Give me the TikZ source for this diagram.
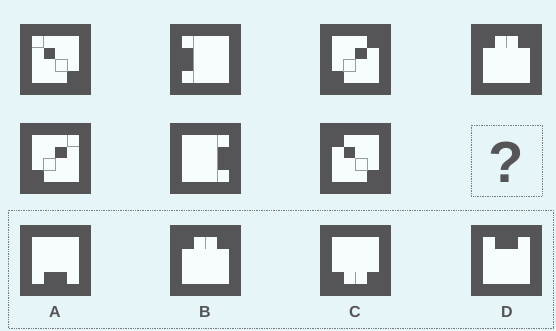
\documentclass[tikz,border=0pt]{standalone}
\usepackage{fontspec}
\setmainfont{Liberation Sans}
\definecolor{bgblue}{RGB}{230,245,248}
\definecolor{darkgrey}{RGB}{85,85,88}
\definecolor{cellwhite}{RGB}{247,252,253}
\definecolor{linegrey}{RGB}{150,155,158}
\tikzset{
  dark/.style={fill=darkgrey},
  light/.style={fill=cellwhite},
  cellline/.style={draw=linegrey, line width=0.5pt},
  dotbox/.style={draw=linegrey!80!black, densely dotted, line width=0.7pt},
  letter/.style={text=darkgrey, font=\fontsize{16}{18}\selectfont\bfseries}
}
% one figure: frame of 6x6 cells, top-left corner at (#1pt,-#2pt)
\newcommand{\puzbox}[3]{%
  \begin{scope}[xshift=#1pt, yshift=-#2pt, x=11.83pt, y=-11.83pt]
    \fill[dark] (0,0) rectangle (6,6);
    \fill[light] (1,1) rectangle (5,5);
    #3
  \end{scope}}
\begin{document}
\begin{tikzpicture}[x=1pt,y=1pt]
\fill[bgblue] (0,0) rectangle (556,-331);
\useasboundingbox (0,0) rectangle (556,-331);
% first row
\puzbox{20}{24}{\fill[dark] (2,2) rectangle (3,3); \fill[dark] (4,4) rectangle (5,5);
  \draw[cellline] (1,2) -- (2,2) -- (2,1); \draw[cellline] (3,3) rectangle (4,4);}
\puzbox{170}{24}{\fill[dark] (1,2) rectangle (2,4); \draw[cellline] (2,1) -- (2,5);}
\puzbox{320}{24}{\fill[dark] (4,1) rectangle (5,2); \fill[dark] (3,2) rectangle (4,3);
  \fill[dark] (1,4) rectangle (2,5); \draw[cellline] (2,3) rectangle (3,4);}
\puzbox{471}{24}{\fill[dark] (1,1) rectangle (5,2); \fill[light] (2,1) rectangle (4,2);
  \draw[cellline] (3,1) -- (3,2);}
% second row
\puzbox{20}{123}{\fill[dark] (3,2) rectangle (4,3); \fill[dark] (1,4) rectangle (2,5);
  \draw[cellline] (4,1) -- (4,2) -- (5,2); \draw[cellline] (2,3) rectangle (3,4);}
\puzbox{170}{123}{\fill[dark] (4,2) rectangle (5,4); \draw[cellline] (4,1) -- (4,5);}
\puzbox{320}{123}{\fill[dark] (1,1) rectangle (2,2); \fill[dark] (2,2) rectangle (3,3);
  \fill[dark] (4,4) rectangle (5,5); \draw[cellline] (3,3) rectangle (4,4);}
\draw[dotbox] (471,-125) rectangle (542,-196);
\node[text=darkgrey, font=\fontsize{58}{60}\selectfont\bfseries] (quest) at (506.5,-162) {?};
% answers
\draw[dotbox] (8,-210) rectangle (553,-328);
\puzbox{20}{225}{\fill[dark] (2,4) rectangle (4,5);}
\puzbox{170}{225}{\fill[dark] (1,1) rectangle (5,2); \fill[light] (2,1) rectangle (4,2);
  \draw[cellline] (3,1) -- (3,2);}
\puzbox{320}{225}{\fill[dark] (1,4) rectangle (5,5); \fill[light] (2,4) rectangle (4,5);
  \draw[cellline] (3,4) -- (3,5);}
\puzbox{471}{225}{\fill[dark] (2,1) rectangle (4,2);}
\node[letter] (labA) at (55,-312) {A};
\node[letter] (labB) at (205,-312) {B};
\node[letter] (labC) at (355,-312) {C};
\node[letter] (labD) at (507,-312) {D};
\end{tikzpicture}
\end{document}
